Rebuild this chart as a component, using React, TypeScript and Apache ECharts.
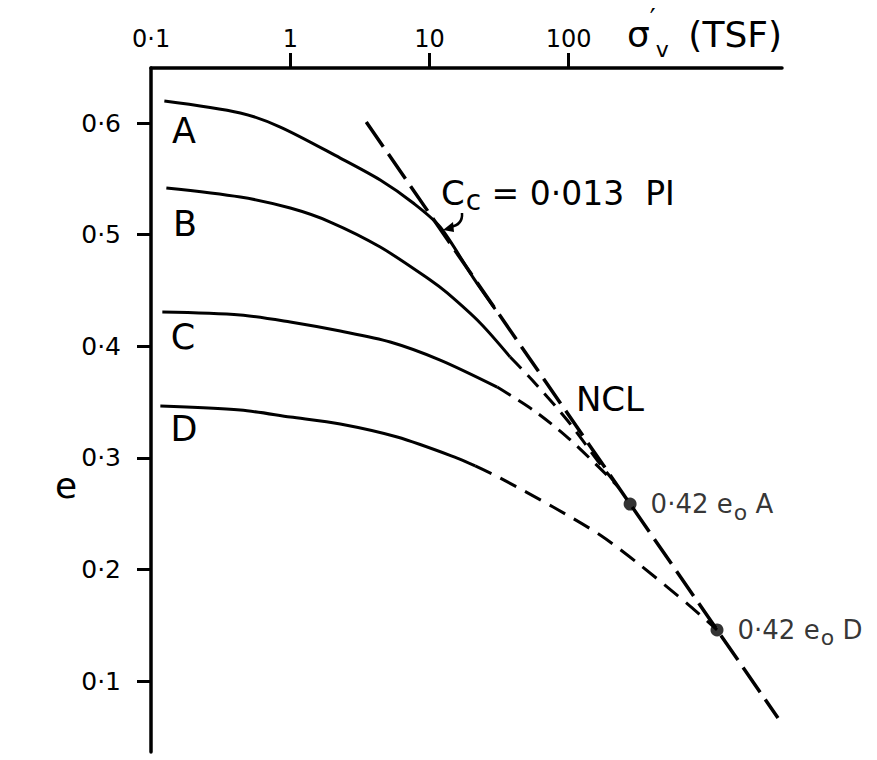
import React, { useEffect, useRef } from "react";
import * as echarts from "echarts";

// ---- data (stress in TSF, void ratio e) ----
const xLabelValues = [0.1, 1, 10, 100];
const xTickValues = [1, 10, 100];
const yTickValues = [0.1, 0.2, 0.3, 0.4, 0.5, 0.6];

const curveASolid = [
  [0.1246, 0.6197], [0.4376, 0.609], [0.8478, 0.5964], [2.285, 0.5686],
  [4.428, 0.5489], [7.638, 0.5283], [11.93, 0.5068], [20.59, 0.4615], [29.62, 0.4333],
];
const curveBSolid = [
  [0.1288, 0.5418], [0.4376, 0.5337], [1.0, 0.5238], [1.937, 0.5113],
  [4.428, 0.4889], [10.12, 0.4593], [13.4, 0.4477], [23.12, 0.4208], [37.96, 0.3903],
];
const curveBDashed = [
  [37.96, 0.3903], [54.6, 0.3697], [97.4, 0.3339], [168, 0.2945], [230, 0.2732],
];
const curveCSolid = [
  [0.1205, 0.4306], [0.4376, 0.428], [1.0, 0.4217], [2.285, 0.4136],
  [5.224, 0.4038], [11.93, 0.3876], [30.62, 0.3634],
];
const curveCDashed = [
  [30.62, 0.3634], [55.5, 0.3428], [97.4, 0.3186], [168, 0.2905], [230, 0.2732],
];
const curveDSolid = [
  [0.1166, 0.3464], [0.4376, 0.3428], [1.0, 0.3366], [2.285, 0.3303],
  [5.865, 0.3186], [15.81, 0.2998], [21.29, 0.2927],
];
const curveDDashed = [
  [21.29, 0.2927], [32.17, 0.2819], [77.3, 0.2559], [168.1, 0.2308],
  [325.6, 0.2039], [743.6, 0.1672], [1162, 0.1458],
];
const nclLine = [[3.513, 0.6009], [3186, 0.0668]];
const pointA = [276, 0.2586];
const pointD = [1162, 0.1458];

const FONT = "DejaVu Sans";
const fmt = (v: number) => String(Number(Number(v).toPrecision(3))).replace(".", "·");

const solid = (name: string, data: number[][]) => ({
  name, type: "line", data, smooth: 0.3, symbol: "none", silent: true,
  lineStyle: { color: "#000", width: 3, type: "solid" }, z: 3,
});
const dashed = (name: string, data: number[][], dash: number[], width = 3) => ({
  name, type: "line", data, smooth: 0.3, symbol: "none", silent: true,
  lineStyle: { color: "#000", width, type: dash }, z: 3,
});

const pointLabel = (letter: string) => ({
  show: true,
  position: "right",
  distance: 14,
  color: "#000",
  formatter: `{n|0·42 }{e|e}{s|o}{n| ${letter}}`,
  rich: {
    n: { fontFamily: FONT, fontSize: 26, color: "#000" },
    e: { fontFamily: FONT, fontSize: 26, color: "#000" },
    s: { fontFamily: FONT, fontSize: 22, color: "#000", padding: [16, 0, 0, 1] },
  },
});

export default function App() {
  const ref = useRef<HTMLDivElement>(null);
  useEffect(() => {
    if (!ref.current) return;
    const chart = echarts.init(ref.current, undefined, { renderer: "svg" });
    const option: any = {
      animation: false,
      backgroundColor: "#fff",
      grid: { left: 151, top: 68, right: 95, bottom: 8, containLabel: false },
      xAxis: {
        type: "log",
        logBase: 10,
        position: "top",
        min: 0.0999,
        max: 3404,
        axisLine: { show: true, onZero: false, lineStyle: { color: "#000", width: 3.5 } },
        axisTick: { show: true, length: 15, lineStyle: { color: "#000", width: 3 }, customValues: xTickValues },
        axisLabel: {
          show: true, customValues: xLabelValues, formatter: (v: number) => fmt(v),
          margin: 17, fontSize: 24, fontFamily: FONT, color: "#000",
        },
        splitLine: { show: false },
        minorTick: { show: false },
      },
      yAxis: {
        type: "value",
        min: 0.0364,
        max: 0.6493,
        axisLine: { show: true, onZero: false, lineStyle: { color: "#000", width: 3.5 } },
        axisTick: { show: true, length: 14, lineStyle: { color: "#000", width: 3 }, customValues: yTickValues },
        axisLabel: {
          show: true, customValues: yTickValues, formatter: (v: number) => fmt(v),
          margin: 30, fontSize: 25, fontFamily: FONT, color: "#000",
        },
        splitLine: { show: false },
      },
      series: [
        solid("A", curveASolid),
        solid("B", curveBSolid),
        dashed("B dashed", curveBDashed, [16, 9]),
        solid("C", curveCSolid),
        dashed("C dashed", curveCDashed, [16, 9]),
        solid("D", curveDSolid),
        dashed("D dashed", curveDDashed, [18, 10]),
        { ...dashed("NCL", nclLine, [30, 9], 3.5), smooth: false },
        {
          name: "0.42 e0 A", type: "scatter", data: [pointA], symbol: "circle", symbolSize: 13,
          itemStyle: { color: "#000" }, label: pointLabel("A"), silent: true, z: 5,
        },
        {
          name: "0.42 e0 D", type: "scatter", data: [pointD], symbol: "circle", symbolSize: 13,
          itemStyle: { color: "#000" }, label: pointLabel("D"), silent: true, z: 5,
        },
      ],
      graphic: [
        // axis title sigma'_v (TSF), one rich text so the sub/superscripts stay attached
        {
          type: "text", x: 627, y: 34,
          style: {
            text: "{s|σ}{p|′}{v|v}",
            verticalAlign: "middle",
            rich: {
              s: { fontFamily: FONT, fontSize: 36, fill: "#000", color: "#000" },
              p: { fontFamily: FONT, fontSize: 26, fill: "#000", color: "#000", padding: [0, 0, 30, 0] },
              v: { fontFamily: FONT, fontSize: 22, fill: "#000", color: "#000", padding: [30, 0, 0, 0] },
            },
          },
        },
        { type: "text", x: 782, y: 34, style: { text: "(TSF)", fontFamily: FONT, fontSize: 36, fill: "#000", align: "right", verticalAlign: "middle" } },
        // y axis name
        { type: "text", x: 66, y: 485, style: { text: "e", fontFamily: FONT, fontSize: 36, fill: "#000", align: "center", verticalAlign: "middle" } },
        // curve letters
        { type: "text", x: 184, y: 131, style: { text: "A", fontFamily: FONT, fontSize: 35, fill: "#000", align: "center", verticalAlign: "middle" } },
        { type: "text", x: 185, y: 224, style: { text: "B", fontFamily: FONT, fontSize: 35, fill: "#000", align: "center", verticalAlign: "middle" } },
        { type: "text", x: 183, y: 337, style: { text: "C", fontFamily: FONT, fontSize: 35, fill: "#000", align: "center", verticalAlign: "middle" } },
        { type: "text", x: 184, y: 429, style: { text: "D", fontFamily: FONT, fontSize: 35, fill: "#000", align: "center", verticalAlign: "middle" } },
        // Cc annotation
        {
          type: "text", x: 441, y: 193,
          style: {
            text: "{C|C}{c|c}{t| = 0·013  PI}",
            verticalAlign: "middle",
            rich: {
              C: { fontFamily: FONT, fontSize: 34, fill: "#000", color: "#000" },
              c: { fontFamily: FONT, fontSize: 28, fill: "#000", color: "#000", padding: [14, 0, 0, 1] },
              t: { fontFamily: FONT, fontSize: 33, fill: "#000", color: "#000" },
            },
          },
        },
        {
          type: "bezierCurve",
          shape: { x1: 462, y1: 213, cpx1: 463, cpy1: 225, x2: 450, y2: 227 },
          style: { stroke: "#000", lineWidth: 2.5, fill: null },
        },
        { type: "polygon", shape: { points: [[443, 230], [453, 222], [454, 232]] }, style: { fill: "#000" } },
        // NCL label
        { type: "text", x: 610, y: 399, style: { text: "NCL", fontFamily: FONT, fontSize: 34, fill: "#000", align: "center", verticalAlign: "middle" } },
      ],
    };
    chart.setOption(option);
    return () => chart.dispose();
  }, []);
  return (
    <div
      ref={ref}
      style={{ position: "fixed", left: 0, top: 0, width: 877, height: 760, background: "#fff" }}
    />
  );
}
